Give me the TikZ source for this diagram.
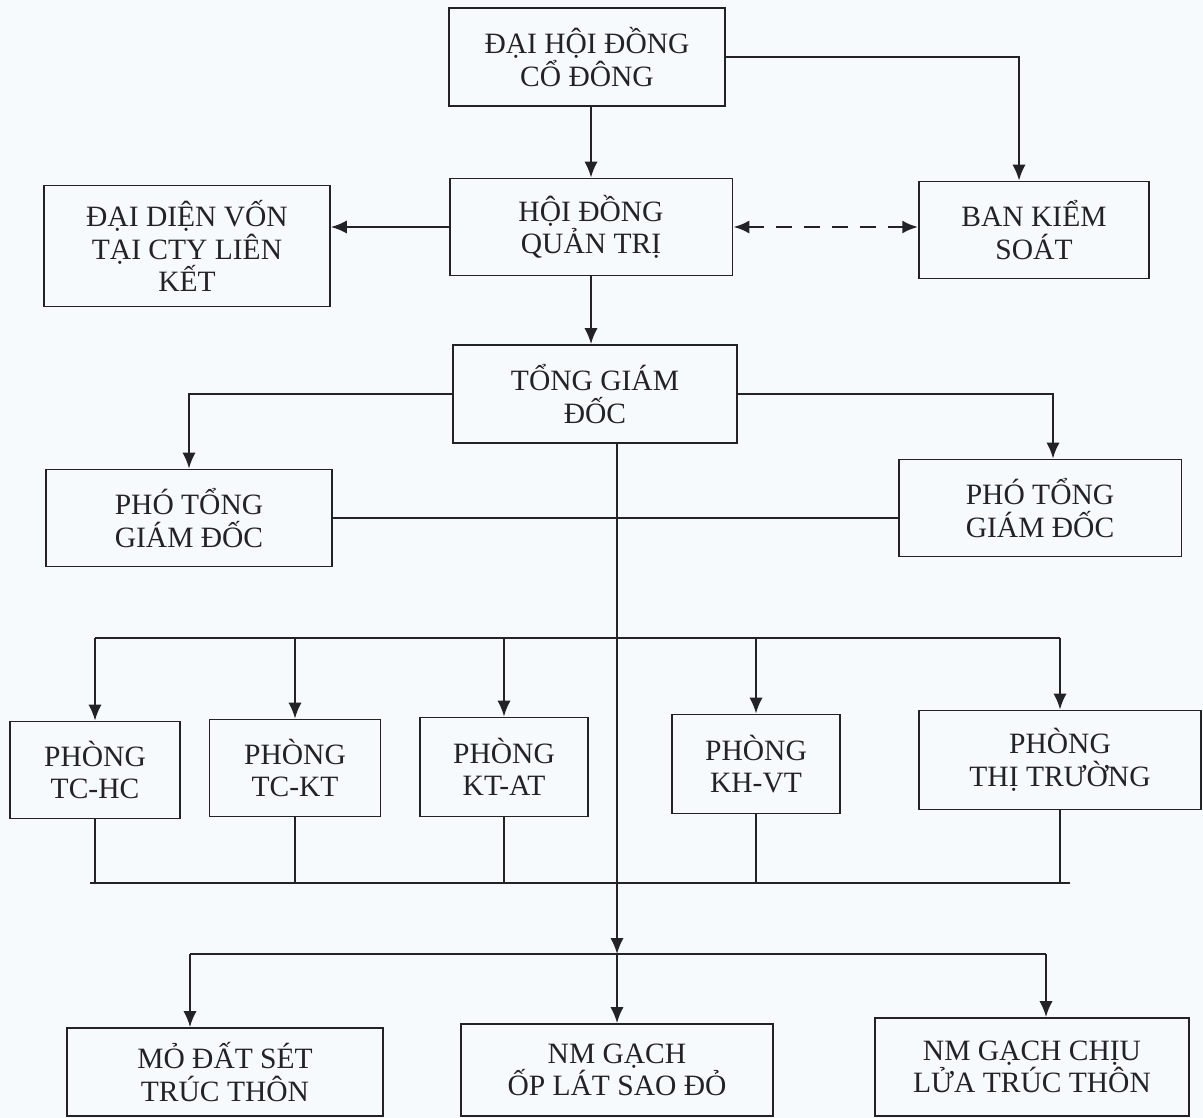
\documentclass[tikz,border=0pt]{standalone}
\usepackage{fontspec}
\setmainfont{Liberation Serif}
\usepackage{tikz}
\usetikzlibrary{calc, arrows.meta}
\definecolor{paper}{RGB}{247,250,252}
\definecolor{ink}{RGB}{35,35,38}

\tikzset{
  box/.style={draw=ink, line width=1.1pt, align=center, inner sep=0pt,
    text=ink, font=\fontsize{16.8}{18.5}\selectfont},
  link/.style={draw=ink, line width=1.1pt},
  bar/.style={draw=ink, line width=1.5pt},
  >={Latex[length=9pt,width=7.5pt]}
}

\begin{document}
\begin{tikzpicture}[x=0.02cm, y=-0.02cm]
  \fill[paper] (0,0) rectangle (1203,1118);
  \useasboundingbox (0,0) rectangle (1203,1118);

  % top of the chart
  \node[box, minimum width=5.52cm, minimum height=1.96cm] (dhdcd) at (587,57) {ĐẠI HỘI ĐỒNG\\CỔ ĐÔNG};
  \node[box, minimum width=5.66cm, minimum height=1.94cm] (hdqt) at (591,227) {HỘI ĐỒNG\\QUẢN TRỊ};
  \node[box, minimum width=4.6cm, minimum height=1.94cm] (bks) at (1034,230) {BAN KIỂM\\SOÁT};
  \node[box, minimum width=5.72cm, minimum height=2.42cm] (ddv) at (187,246) {ĐẠI DIỆN VỐN\\TẠI CTY LIÊN\\KẾT};
  \node[box, minimum width=5.68cm, minimum height=1.96cm] (tgd) at (595,394) {TỔNG GIÁM\\ĐỐC};
  \node[box, minimum width=5.72cm, minimum height=1.94cm] (ptgdA) at (189,518) {PHÓ TỔNG\\GIÁM ĐỐC};
  \node[box, minimum width=5.66cm, minimum height=1.94cm] (ptgdB) at (1040,508) {PHÓ TỔNG\\GIÁM ĐỐC};

  % phong ban
  \node[box, minimum width=3.4cm, minimum height=1.94cm] (tchc) at (95,770) {PHÒNG\\TC-HC};
  \node[box, minimum width=3.42cm, minimum height=1.94cm] (tckt) at (295,768) {PHÒNG\\TC-KT};
  \node[box, minimum width=3.36cm, minimum height=1.98cm] (ktat) at (504,767) {PHÒNG\\KT-AT};
  \node[box, minimum width=3.36cm, minimum height=1.98cm] (khvt) at (756,764) {PHÒNG\\KH-VT};
  \node[box, minimum width=5.64cm, minimum height=1.98cm] (thtr) at (1060,760) {PHÒNG\\THỊ TRƯỜNG};

  % nha may
  \node[box, minimum width=6.32cm, minimum height=1.76cm] (mo) at (225,1072) {MỎ ĐẤT SÉT\\TRÚC THÔN};
  \node[box, minimum width=6.24cm, minimum height=1.84cm] (nmg) at (617,1070) {NM GẠCH\\ỐP LÁT SAO ĐỎ};
  \node[box, minimum width=6.28cm, minimum height=1.96cm] (nmgcl) at (1032,1067) {NM GẠCH CHỊU\\LỬA TRÚC THÔN};

  \coordinate (deptbar) at (617,638);
  \coordinate (lowbar) at (617,883);
  \coordinate (facbar) at (617,954);
  \coordinate (facL) at (190,954);
  \coordinate (facR) at (1046,954);

  \path
    (dhdcd.south -| hdqt) edge[link, ->] (hdqt)
    (hdqt) edge[link, ->] (hdqt |- tgd.north)
    (hdqt.west) edge[link, ->] (hdqt.west -| ddv.east);
  \draw[link, ->] (dhdcd.east) -| ([xshift=-0.3cm]bks.north);
  \draw[link, <->, line width=1.6pt, dash pattern=on 9pt off 7pt] (hdqt.east) -- (hdqt.east -| bks.west);

  \draw[link, ->] (tgd.west) -| (ptgdA.north);
  \draw[link, ->] (tgd.east) -| ([xshift=0.26cm]ptgdB.north);
  \draw[link] (ptgdA.east) -- (ptgdA.east -| ptgdB.west);

  % truc chinh
  \draw[link, ->] (tgd.south -| facbar) -- (facbar);

  \draw[bar] (deptbar -| tchc) -- (deptbar -| thtr);
  \foreach \d in {tchc, tckt, ktat, khvt, thtr}
    \draw[link, ->] (deptbar -| \d) -- (\d);
  \foreach \d in {tchc, tckt, ktat, khvt, thtr}
    \draw[link] (\d) -- (lowbar -| \d);
  \draw[bar] ([xshift=-0.1cm]lowbar -| tchc) -- ([xshift=0.2cm]lowbar -| thtr);

  \draw[bar] (facL) -- (facR);
  \draw[link, ->] (facL) -- (facL |- mo.north);
  \draw[link, ->] (facbar) -- (nmg);
  \draw[link, ->] (facR) -- (facR |- nmgcl.north);

\end{tikzpicture}
\end{document}
